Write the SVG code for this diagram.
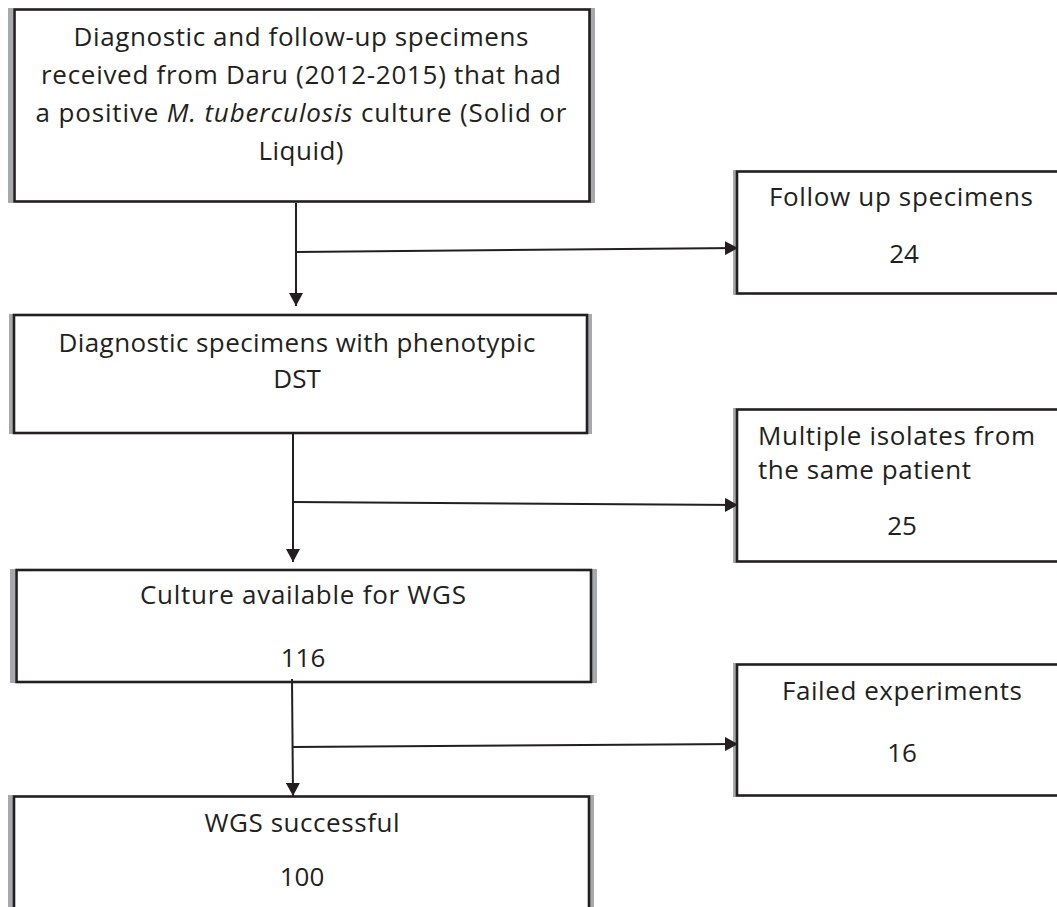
<svg xmlns="http://www.w3.org/2000/svg" width="1057" height="907" viewBox="0 0 1057 907">
<defs>
<style>
.box{fill:#ffffff;stroke:#231f20;stroke-width:2.6}
.edge{fill:#a7a9ac}
.t{font-family:"Open Sans",Lato,"Liberation Sans",sans-serif;font-size:26px;fill:#231f20}
.c{text-anchor:middle}
.conn{fill:none;stroke:#231f20;stroke-width:2}
</style>
<marker id="ah" markerUnits="userSpaceOnUse" markerWidth="14" markerHeight="14" refX="13" refY="7" orient="auto">
<path d="M0,0 L13,7 L0,14 z" fill="#231f20"/>
</marker>
</defs>
<rect width="1057" height="907" fill="#ffffff"/>

<g id="node-all-specimens">
<rect class="edge" x="8" y="8" width="5" height="195"/>
<rect class="edge" x="590" y="8" width="5" height="195"/>
<rect class="box" x="14.5" y="9.5" width="575" height="192"/>
<text class="t c" x="301" y="46" textLength="455">Diagnostic and follow-up specimens</text>
<text class="t c" x="301" y="84" textLength="520">received from Daru (2012-2015) that had</text>
<text class="t c" x="301" y="122" textLength="531">a positive <tspan font-style="italic">M. tuberculosis</tspan> culture (Solid or</text>
<text class="t c" x="301" y="160" textLength="85">Liquid)</text>
</g>

<g id="node-follow-up">
<rect class="edge" x="733" y="170" width="3" height="125"/>
<rect class="box" x="737" y="171.5" width="340" height="122"/>
<text class="t c" x="901" y="206" textLength="264">Follow up specimens</text>
<text class="t c" x="904" y="263">24</text>
</g>

<g id="node-diagnostic-dst">
<rect class="edge" x="9" y="314" width="4" height="120"/>
<rect class="edge" x="588" y="314" width="4" height="120"/>
<rect class="box" x="14" y="315" width="573" height="118"/>
<text class="t c" x="297" y="352" textLength="477">Diagnostic specimens with phenotypic</text>
<text class="t c" x="297" y="388">DST</text>
</g>

<g id="node-multiple-isolates">
<rect class="edge" x="733" y="408" width="3" height="155"/>
<rect class="box" x="737" y="409.5" width="340" height="152"/>
<text class="t" x="758" y="445" textLength="277">Multiple isolates from</text>
<text class="t" x="758" y="479" textLength="213">the same patient</text>
<text class="t c" x="902" y="535">25</text>
</g>

<g id="node-culture">
<rect class="edge" x="10" y="569" width="5" height="114"/>
<rect class="edge" x="592" y="569" width="5" height="114"/>
<rect class="box" x="16.5" y="570" width="574.5" height="112"/>
<text class="t c" x="303" y="604" textLength="326">Culture available for WGS</text>
<text class="t c" x="303" y="667">116</text>
</g>

<g id="node-failed">
<rect class="edge" x="733" y="663" width="3" height="134"/>
<rect class="box" x="737" y="664.5" width="340" height="131"/>
<text class="t c" x="902" y="700" textLength="240">Failed experiments</text>
<text class="t c" x="902" y="762">16</text>
</g>

<g id="node-wgs-successful">
<rect class="edge" x="8" y="795" width="5" height="130"/>
<rect class="edge" x="590" y="795" width="4" height="130"/>
<rect class="box" x="14" y="796.5" width="575" height="130"/>
<text class="t c" x="302" y="832" textLength="195">WGS successful</text>
<text class="t c" x="302" y="886">100</text>
</g>

<g id="connectors">
<path class="conn" d="M296,203 V306" marker-end="url(#ah)"/>
<path class="conn" d="M296,252 L738,248" marker-end="url(#ah)"/>
<path class="conn" d="M293,434 V562" marker-end="url(#ah)"/>
<path class="conn" d="M293,502 L738,505" marker-end="url(#ah)"/>
<path class="conn" d="M292,679 L293,796" marker-end="url(#ah)"/>
<path class="conn" d="M293,747 L738,744" marker-end="url(#ah)"/>
</g>
</svg>
